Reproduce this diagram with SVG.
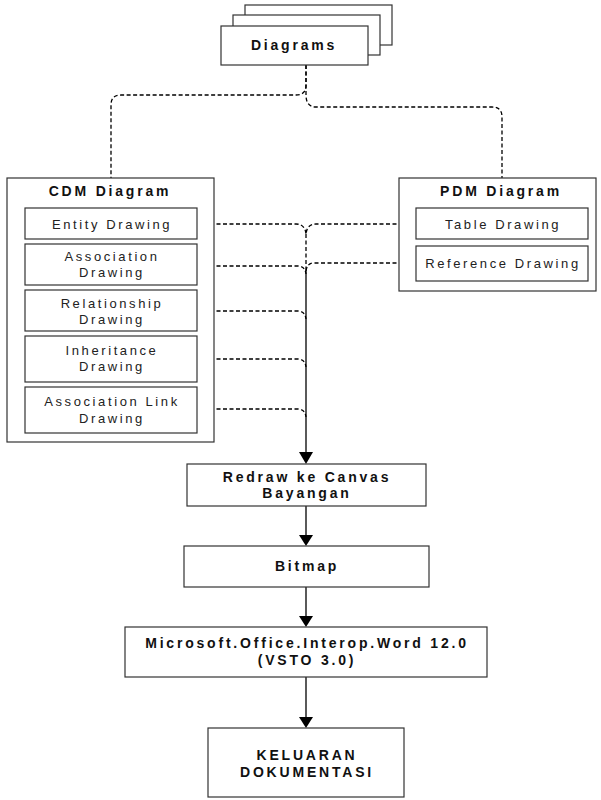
<svg xmlns="http://www.w3.org/2000/svg" width="601" height="800" viewBox="0 0 601 800">
  <defs>
    <style>
      .box { fill: #ffffff; stroke: #333333; stroke-width: 1.2; }
      .t { font-family: "Liberation Sans", Arial, sans-serif; font-size: 13px; letter-spacing: 2.6px; fill: #222222; text-anchor: middle; }
      .tb { font-family: "Liberation Sans", Arial, sans-serif; font-size: 14px; font-weight: bold; letter-spacing: 2.8px; fill: #111111; text-anchor: middle; }
      .dash { fill: none; stroke: #000000; stroke-width: 1.3; stroke-dasharray: 4 2.5; }
      .solid { fill: none; stroke: #000000; stroke-width: 1.3; }
      .head { fill: #000000; stroke: none; }
    </style>
  </defs>
  <rect width="601" height="800" fill="#ffffff"/>

  <g id="connectors">
    <!-- Diagrams to CDM / PDM -->
    <path class="dash" d="M306,65 V85 Q306,95 296,95 H121 Q111,95 111,105 V178"/>
    <path class="dash" d="M306,65 V95 Q306,107 316,107 H492 Q502,107 502,117 V178"/>
    <!-- inner drawings into the trunk -->
    <path class="dash" d="M197,224 H296 Q305,224 306,234"/>
    <path class="dash" d="M416,224 H316 Q307,224 306,234"/>
    <path class="dash" d="M306,234 V268"/>
    <path class="dash" d="M197,266 H298 Q305,266 306,274"/>
    <path class="dash" d="M416,263 H314 Q307,263 306,271"/>
    <path class="dash" d="M197,311 H298 Q305,311 306,319"/>
    <path class="dash" d="M197,359 H298 Q305,359 306,367"/>
    <path class="dash" d="M197,409 H298 Q305,409 306,417"/>
    <!-- trunk to Redraw -->
    <path class="solid" d="M306,268 V453" stroke-width="2.2"/>
    <polygon class="head" points="299,452 313,452 306,464"/>
    <!-- Redraw to Bitmap -->
    <path class="solid" d="M306,506 V536"/>
    <polygon class="head" points="299,535 313,535 306,546"/>
    <!-- Bitmap to Microsoft -->
    <path class="solid" d="M306,587 V617"/>
    <polygon class="head" points="299,616 313,616 306,627"/>
    <!-- Microsoft to Keluaran -->
    <path class="solid" d="M306,677 V718"/>
    <polygon class="head" points="299,717 313,717 306,728"/>
  </g>

  <g id="diagrams">
    <rect class="box" x="245" y="5" width="147" height="40"/>
    <rect class="box" x="233" y="15" width="147" height="40"/>
    <rect class="box" x="221" y="26" width="147" height="39"/>
    <text class="tb" x="294" y="50">Diagrams</text>
  </g>

  <g id="cdm-diagram">
    <rect class="box" x="7" y="178" width="207" height="264"/>
    <text class="tb" x="110" y="196">CDM Diagram</text>
  </g>
  <g id="entity-drawing">
    <rect class="box" x="25" y="208" width="172" height="31"/>
    <text class="t" x="112" y="229">Entity Drawing</text>
  </g>
  <g id="association-drawing">
    <rect class="box" x="25" y="244" width="172" height="41"/>
    <text class="t" x="112" y="261">Association</text>
    <text class="t" x="112" y="277">Drawing</text>
  </g>
  <g id="relationship-drawing">
    <rect class="box" x="25" y="290" width="172" height="41"/>
    <text class="t" x="112" y="308">Relationship</text>
    <text class="t" x="112" y="324">Drawing</text>
  </g>
  <g id="inheritance-drawing">
    <rect class="box" x="25" y="336" width="172" height="46"/>
    <text class="t" x="112" y="355">Inheritance</text>
    <text class="t" x="112" y="371">Drawing</text>
  </g>
  <g id="association-link-drawing">
    <rect class="box" x="25" y="387" width="172" height="46"/>
    <text class="t" x="112" y="406">Association Link</text>
    <text class="t" x="112" y="423">Drawing</text>
  </g>

  <g id="pdm-diagram">
    <rect class="box" x="399" y="178" width="197" height="113"/>
    <text class="tb" x="501" y="196">PDM Diagram</text>
  </g>
  <g id="table-drawing">
    <rect class="box" x="416" y="208" width="172" height="31"/>
    <text class="t" x="503" y="229">Table Drawing</text>
  </g>
  <g id="reference-drawing">
    <rect class="box" x="416" y="246" width="172" height="35"/>
    <text class="t" x="503" y="268">Reference Drawing</text>
  </g>

  <g id="redraw">
    <rect class="box" x="187" y="464" width="239" height="42"/>
    <text class="tb" x="307" y="482">Redraw ke Canvas</text>
    <text class="tb" x="307" y="498">Bayangan</text>
  </g>

  <g id="bitmap">
    <rect class="box" x="184" y="546" width="245" height="41"/>
    <text class="tb" x="307" y="571">Bitmap</text>
  </g>

  <g id="interop">
    <rect class="box" x="125" y="627" width="362" height="50"/>
    <text class="tb" x="307" y="648">Microsoft.Office.Interop.Word 12.0</text>
    <text class="tb" x="307" y="665">(VSTO 3.0)</text>
  </g>

  <g id="keluaran">
    <rect class="box" x="208" y="728" width="196" height="69"/>
    <text class="tb" x="307" y="760">KELUARAN</text>
    <text class="tb" x="307" y="777">DOKUMENTASI</text>
  </g>
</svg>
